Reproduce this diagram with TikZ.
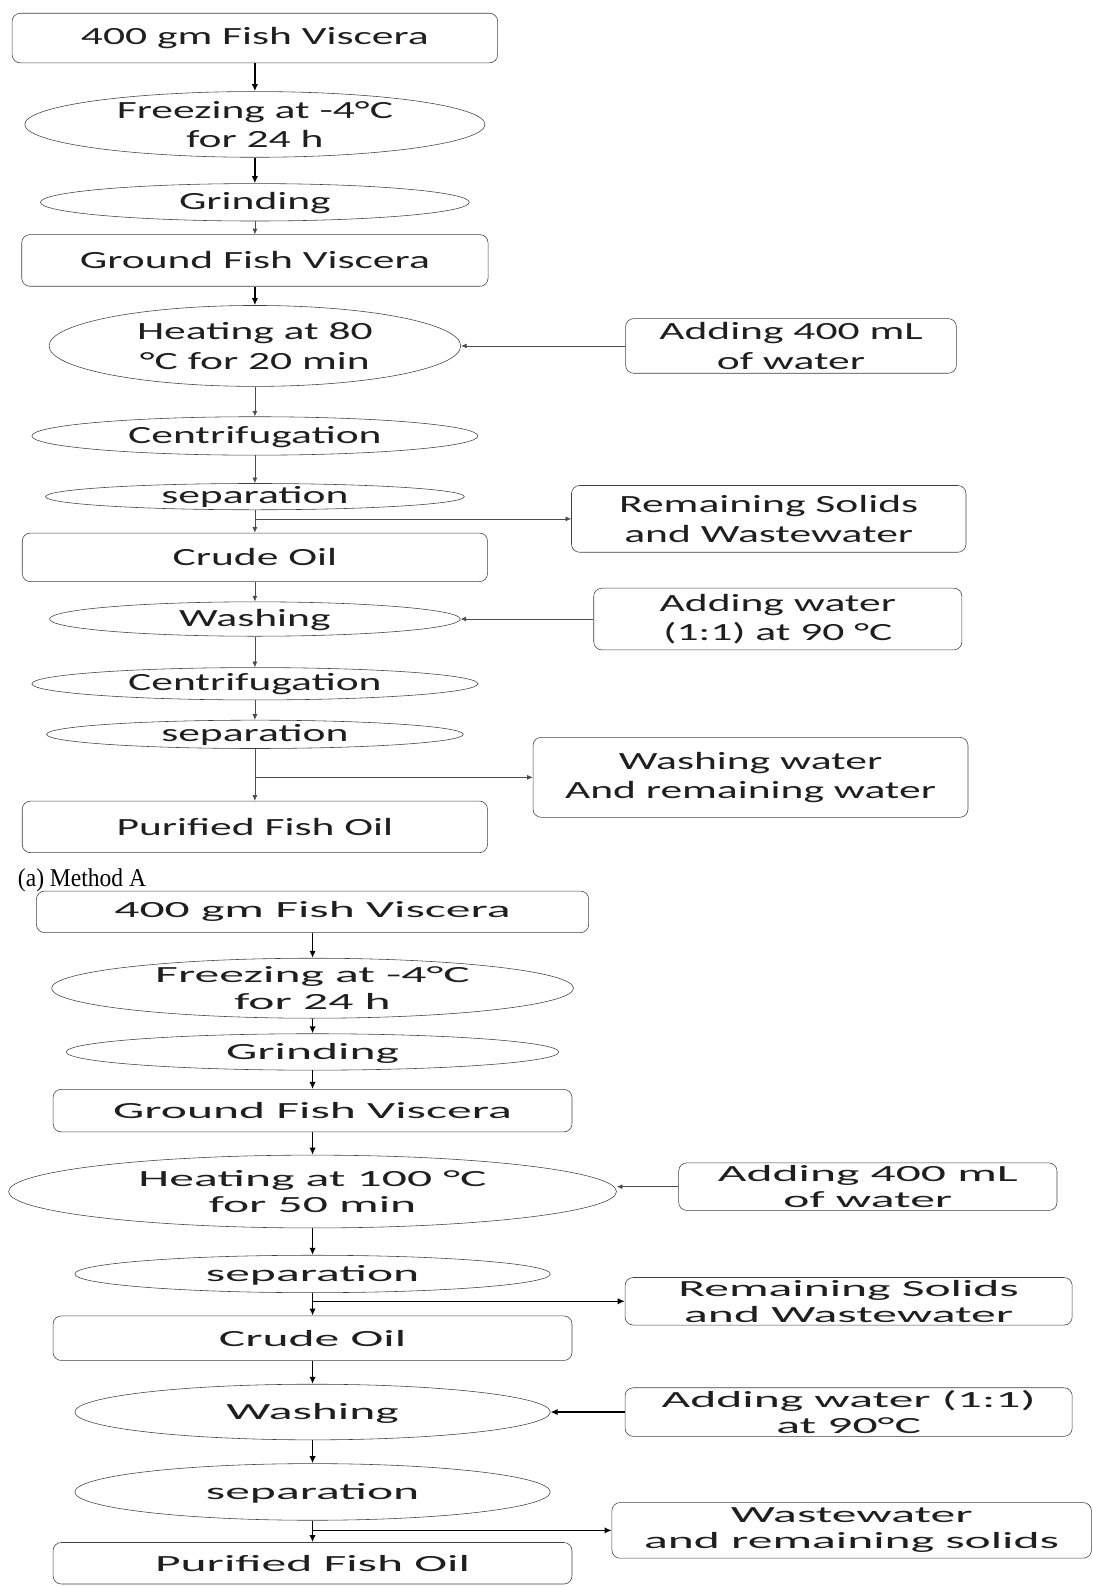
\documentclass[tikz,border=0pt]{standalone}
\usepackage{fontspec}
\setmainfont{Carlito}
\newfontfamily\methodafont[FakeStretch=1.76]{Carlito}
\newfontfamily\methodbfont[FakeStretch=2.14]{Carlito}
\newfontfamily\labelserif[FakeStretch=0.92]{Liberation Serif}
\usetikzlibrary{arrows.meta,shapes.geometric}

\tikzset{
  procbox/.style={draw=black!75, rounded corners=0.2cm, align=center, inner sep=0pt, text=black!88},
  procoval/.style={draw=black!75, ellipse, align=center, inner sep=0pt, text=black!88},
  oneline/.style={text height=10pt, text depth=0pt},
  afont/.style={font=\methodafont\fontsize{17.4}{20.6}\selectfont},
  bfont/.style={font=\methodbfont\fontsize{16.3}{18.5}\selectfont},
  thinflow/.style={draw=black!70, line width=0.5pt, -{Latex[length=4pt,width=3.5pt]}},
  boldflow/.style={draw=black, line width=1.1pt, -{Latex[length=5pt,width=4.5pt]}},
}

\begin{document}
\begin{tikzpicture}
  \useasboundingbox (0,0) rectangle (27,-39.2);

  % (a) Method A
  \node[procbox, afont, minimum width=12cm, minimum height=1.225cm] (visa) at (6.3,-0.94) {400 gm Fish Viscera};
  \node[procoval, afont, minimum width=11.375cm, minimum height=1.575cm] (freezea) at (6.3,-3.075) {Freezing at -4°C\\for 24 h};
  \node[procoval, afont, oneline, minimum width=10.6cm, minimum height=0.925cm] (grinda) at (6.3,-5.0) {Grinding};
  \node[procbox, afont, minimum width=11.525cm, minimum height=1.275cm] (grounda) at (6.3,-6.4375) {Ground Fish Viscera};
  \node[procoval, afont, minimum width=10.175cm, minimum height=2.0cm] (heata) at (6.3,-8.55) {Heating at 80\\°C for 20 min};
  \node[procbox, afont, minimum width=8.175cm, minimum height=1.35cm] (addwa) at (19.55,-8.55) {Adding 400 mL\\of water};
  \node[procoval, afont, oneline, minimum width=11.025cm, minimum height=0.95cm] (centria) at (6.3,-10.775) {Centrifugation};
  \node[procoval, afont, oneline, minimum width=10.35cm, minimum height=0.65cm] (sepa) at (6.3,-12.275) {separation};
  \node[procbox, afont, minimum width=9.75cm, minimum height=1.65cm] (solidsa) at (19.0,-12.825) {Remaining Solids\\and Wastewater};
  \node[procbox, afont, minimum width=11.5cm, minimum height=1.2cm] (crudea) at (6.3,-13.775) {Crude Oil};
  \node[procoval, afont, oneline, minimum width=10.15cm, minimum height=0.85cm] (washa) at (6.3,-15.3) {Washing};
  \node[procbox, afont, minimum width=9.1cm, minimum height=1.525cm] (addwatera) at (19.225,-15.3) {Adding water\\(1:1) at 90 °C};
  \node[procoval, afont, oneline, minimum width=11.025cm, minimum height=0.8cm] (centria2) at (6.3,-16.9) {Centrifugation};
  \node[procoval, afont, oneline, minimum width=10.3cm, minimum height=0.7cm] (sepa2) at (6.3,-18.15) {separation};
  \node[procbox, afont, minimum width=10.75cm, minimum height=1.975cm] (washwa) at (18.55,-19.2125) {Washing water\\And remaining water};
  \node[procbox, afont, minimum width=11.5cm, minimum height=1.275cm] (purea) at (6.3,-20.4375) {Purified Fish Oil};

  \draw[boldflow] (visa) -- (freezea);
  \draw[boldflow] (freezea) -- (grinda);
  \draw[thinflow] (grinda) -- (grounda);
  \draw[boldflow] (grounda) -- (heata);
  \draw[thinflow] (addwa) -- (heata);
  \draw[thinflow] (heata) -- (centria);
  \draw[thinflow] (centria) -- (sepa);
  \draw[thinflow] (sepa) -- (crudea);
  \draw[thinflow] (sepa |- solidsa) -- (solidsa);
  \draw[thinflow] (crudea) -- (washa);
  \draw[thinflow] (addwatera) -- (washa);
  \draw[thinflow] (washa) -- (centria2);
  \draw[thinflow] (centria2) -- (sepa2);
  \draw[thinflow] (sepa2) -- (purea);
  \draw[thinflow] (sepa2 |- washwa) -- (washwa);

  \node[anchor=west, font=\labelserif\fontsize{18}{20}\selectfont] (capa) at (0.32,-21.75) {(a) Method A};

  % method B
  \node[procbox, bfont, minimum width=13.65cm, minimum height=1.025cm] (visb) at (7.725,-22.5375) {400 gm Fish Viscera};
  \node[procoval, bfont, minimum width=12.9cm, minimum height=1.45cm] (freezeb) at (7.725,-24.425) {Freezing at -4°C\\for 24 h};
  \node[procoval, bfont, oneline, minimum width=12.175cm, minimum height=0.9cm] (grindb) at (7.725,-26.0) {Grinding};
  \node[procbox, bfont, minimum width=12.825cm, minimum height=1.05cm] (groundb) at (7.725,-27.45) {Ground Fish Viscera};
  \node[procoval, bfont, minimum width=15.025cm, minimum height=1.8cm] (heatb) at (7.725,-29.45) {Heating at 100 °C\\for 50 min};
  \node[procbox, bfont, minimum width=9.35cm, minimum height=1.175cm] (addwb) at (21.45,-29.33) {Adding 400 mL\\of water};
  \node[procoval, bfont, oneline, minimum width=11.75cm, minimum height=0.925cm] (sepb) at (7.725,-31.4875) {separation};
  \node[procbox, bfont, minimum width=11.05cm, minimum height=1.175cm] (solidsb) at (20.975,-32.1625) {Remaining Solids\\and Wastewater};
  \node[procbox, bfont, minimum width=12.825cm, minimum height=1.1cm] (crudeb) at (7.725,-33.075) {Crude Oil};
  \node[procoval, bfont, oneline, minimum width=11.75cm, minimum height=1.375cm] (washb) at (7.725,-34.9) {Washing};
  \node[procbox, bfont, minimum width=11.05cm, minimum height=1.2cm] (addwaterb) at (20.975,-34.9) {Adding water (1:1)\\at 90°C};
  \node[procoval, bfont, oneline, minimum width=11.75cm, minimum height=1.4cm] (sepb2) at (7.725,-36.875) {separation};
  \node[procbox, bfont, minimum width=11.85cm, minimum height=1.375cm] (washwb) at (21.05,-37.825) {Wastewater\\and remaining solids};
  \node[procbox, bfont, minimum width=12.825cm, minimum height=1.025cm] (pureb) at (7.725,-38.6375) {Purified Fish Oil};

  \draw[boldflow] (visb) -- (freezeb);
  \draw[boldflow] (freezeb) -- (grindb);
  \draw[boldflow] (grindb) -- (groundb);
  \draw[boldflow] (groundb) -- (heatb);
  \draw[thinflow] (addwb.west) -- (addwb.west -| heatb.east);
  \draw[boldflow] (heatb) -- (sepb);
  \draw[boldflow] (sepb) -- (crudeb);
  \draw[boldflow] (sepb |- solidsb) -- (solidsb);
  \draw[boldflow] (crudeb) -- (washb);
  \draw[boldflow] (addwaterb) -- (washb);
  \draw[boldflow] (washb) -- (sepb2);
  \draw[boldflow] (sepb2) -- (pureb);
  \draw[boldflow] (sepb2 |- washwb) -- (washwb);
\end{tikzpicture}
\end{document}
